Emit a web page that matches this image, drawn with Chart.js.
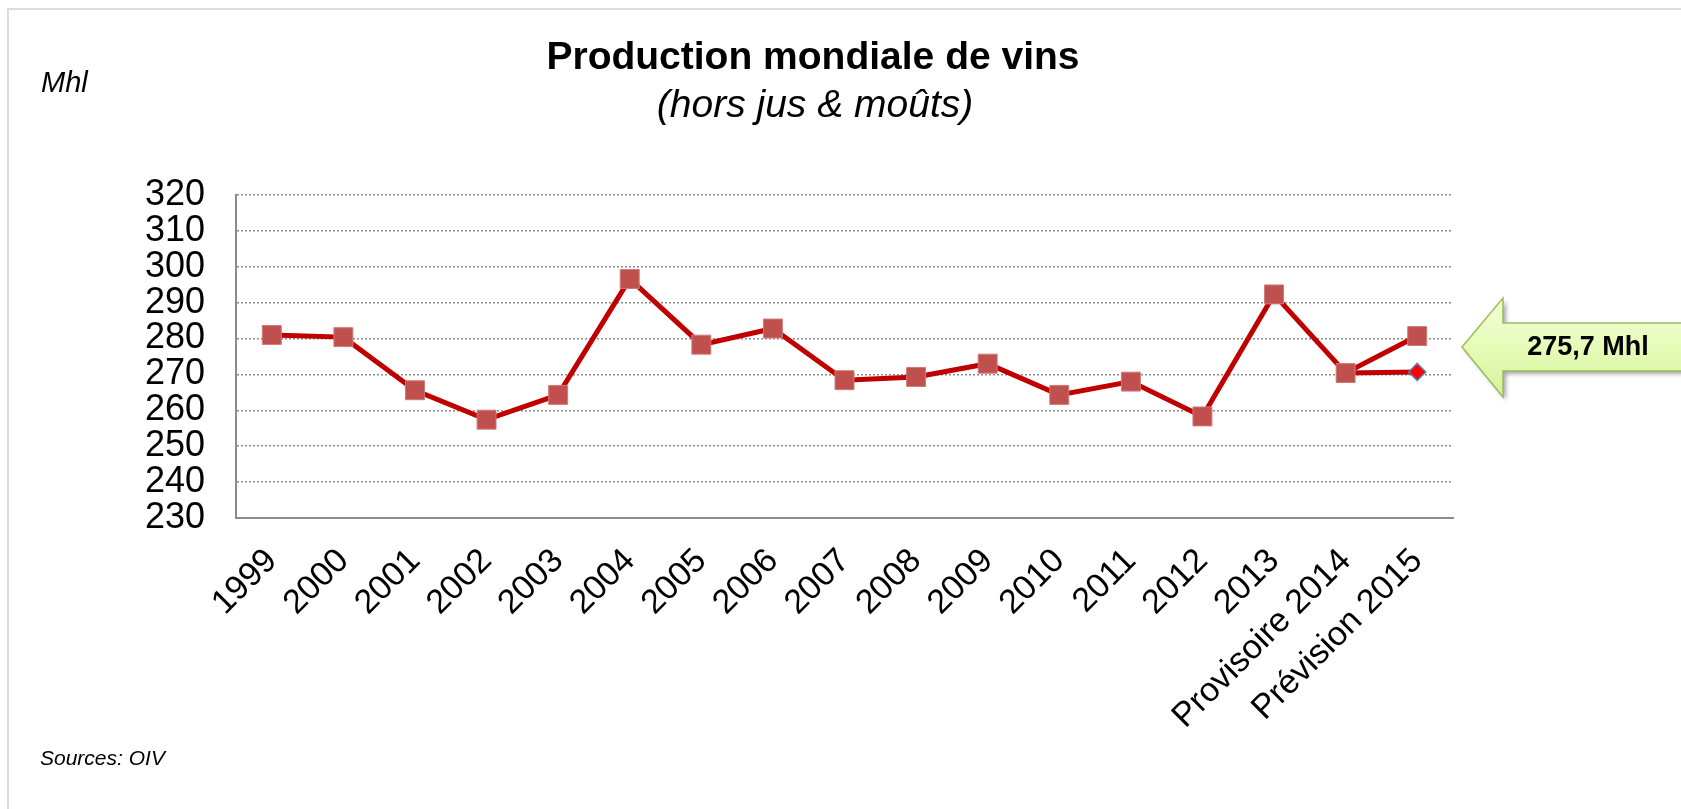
<!DOCTYPE html>
<html>
<head>
<meta charset="utf-8">
<script src="https://cdn.jsdelivr.net/npm/chart.js@4.4.1/dist/chart.umd.min.js"></script>
<style>
  html, body { margin: 0; padding: 0; background: #fff; }
  body { width: 1681px; height: 809px; position: relative; overflow: hidden; font-family: "Liberation Sans", Arial, sans-serif; }
  #frame { position: absolute; left: 7px; top: 8px; width: 1720px; height: 850px; border: 2px solid #dcdcdc; box-sizing: border-box; }
  #wrap { position: absolute; left: 0; top: 0; width: 1681px; height: 809px; }
  .txt { position: absolute; white-space: nowrap; color: #000; line-height: 1.15; }
  #title { left: 0; width: 1626px; top: 34px; text-align: center; font-weight: bold; font-size: 39px; }
  #subtitle { left: 0; width: 1630px; top: 82px; text-align: center; font-style: italic; font-size: 39px; }
  #unit { left: 41px; top: 66px; font-style: italic; font-size: 29px; }
  #source { left: 40px; top: 746px; font-style: italic; font-size: 21px; }
</style>
</head>
<body>
<div id="frame"></div>
<div id="wrap"><canvas id="wineChart" width="1681" height="809"></canvas></div>
<div class="txt" id="title">Production mondiale de vins</div>
<div class="txt" id="subtitle">(hors jus &amp; moûts)</div>
<div class="txt" id="unit">Mhl</div>
<div class="txt" id="source">Sources: OIV</div>
<script>
// ---------------- Données ----------------

const years = ['1999', '2000', '2001', '2002', '2003', '2004', '2005', '2006', '2007',
    '2008', '2009', '2010', '2011', '2012', '2013', 'Provisoire 2014', 'Prévision 2015'];

const production = [281.0, 280.4, 265.6, 257.4, 264.3, 296.6, 278.3, 282.8, 268.4,
    269.3, 273.0, 264.3, 268.0, 258.3, 292.3, 270.4, 280.7];

// Prévision alternative (losange)
const forecast = [null, null, null, null, null, null, null, null, null,
    null, null, null, null, null, null, 270.4, 270.7];

const yMin = 230;
const yMax = 320;
const yStep = 10;

const calloutLabel = '275,7 Mhl';

const FONT = '"Liberation Sans", Arial, sans-serif';

// ---------------- Flèche de légende ----------------

const calloutArrow = {
    id: 'calloutArrow',
    afterDraw(chart) {
        const ctx = chart.ctx;
        const tipX = 1462, tipY = 347;
        const headX = 1503, headTop = 298, headBottom = 397;
        const shaftTop = 323, shaftBottom = 371, endX = 1700;

        const path = () => {
            ctx.beginPath();
            ctx.moveTo(tipX, tipY);
            ctx.lineTo(headX, headTop);
            ctx.lineTo(headX, shaftTop);
            ctx.lineTo(endX, shaftTop);
            ctx.lineTo(endX, shaftBottom);
            ctx.lineTo(headX, shaftBottom);
            ctx.lineTo(headX, headBottom);
            ctx.closePath();
        };

        ctx.save();
        ctx.shadowColor = 'rgba(0,0,0,0.35)';
        ctx.shadowBlur = 4;
        ctx.shadowOffsetX = 3;
        ctx.shadowOffsetY = 3;
        const grad = ctx.createLinearGradient(0, headTop, 0, headBottom);
        grad.addColorStop(0, '#f3ffd9');
        grad.addColorStop(0.5, '#e6fbb8');
        grad.addColorStop(1, '#d6f29a');
        ctx.fillStyle = grad;
        path();
        ctx.fill();
        ctx.restore();

        ctx.save();
        ctx.strokeStyle = '#9bbb59';
        ctx.lineWidth = 1.5;
        path();
        ctx.stroke();

        ctx.fillStyle = '#000';
        ctx.font = 'bold 27px ' + FONT;
        ctx.textAlign = 'center';
        ctx.textBaseline = 'middle';
        ctx.fillText(calloutLabel, 1588, 348);
        ctx.restore();
    }
};

// ---------------- Graphique ----------------

new Chart(document.getElementById('wineChart'), {
    type: 'line',
    data: {
        labels: years,
        datasets: [{
            label: 'Production',
            data: production,
            borderColor: '#c00000',
            borderWidth: 5,
            pointStyle: 'rect',
            pointRadius: 13.4,
            pointBackgroundColor: '#c0504d',
            pointBorderColor: '#d27a78',
            pointBorderWidth: 1,
            tension: 0
        }, {
            label: 'Prévision',
            data: forecast,
            borderColor: '#c00000',
            borderWidth: 5,
            pointStyle: 'rectRot',
            pointRadius: [0, 0, 0, 0, 0, 0, 0, 0, 0, 0, 0, 0, 0, 0, 0, 0, 8.5],
            pointBackgroundColor: '#ff0000',
            pointBorderColor: '#4f81bd',
            pointBorderWidth: 1.5,
            tension: 0
        }]
    },
    options: {
        responsive: false,
        animation: false,
        layout: { padding: { left: 0, right: 228, top: 195, bottom: 0 } },
        plugins: {
            legend: { display: false },
            tooltip: { enabled: false },
            title: { display: false }
        },
        scales: {
            x: {
                offset: true,
                grid: { display: false, drawTicks: false },
                border: { display: true, color: '#8c8c8c', width: 2 },
                ticks: {
                    color: '#000',
                    font: { family: FONT, size: 34 },
                    maxRotation: 45,
                    minRotation: 45,
                    autoSkip: false,
                    padding: 23
                },
                afterFit(scale) { scale.height = 291; }
            },
            y: {
                min: yMin,
                max: yMax,
                grid: { color: '#8c8c8c', lineWidth: 1.5, drawTicks: false },
                border: { display: true, color: '#8c8c8c', width: 2, dash: [2, 2] },
                ticks: {
                    stepSize: yStep,
                    autoSkip: false,
                    color: '#000',
                    font: { family: FONT, size: 36 },
                    padding: 31
                },
                afterFit(scale) { scale.width = 236; }
            }
        }
    },
    plugins: [calloutArrow]
});
</script>
</body>
</html>
